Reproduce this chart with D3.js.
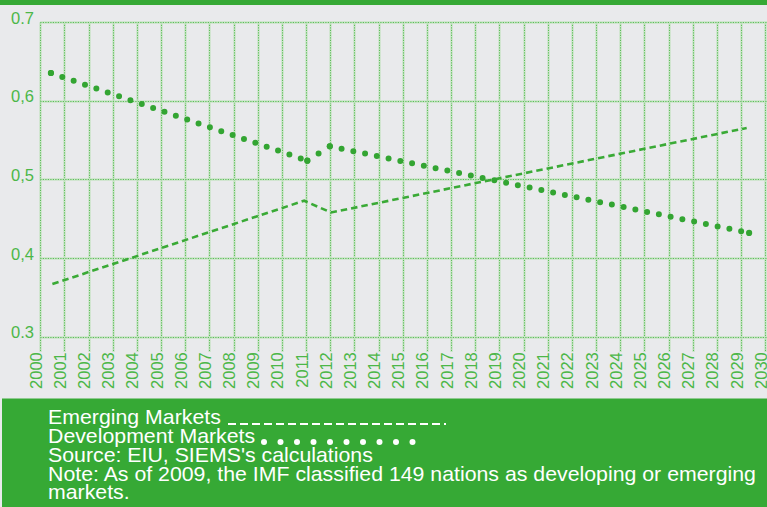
<!DOCTYPE html>
<html><head><meta charset="utf-8">
<script src="https://cdn.jsdelivr.net/npm/d3@7"></script>
<style>
html,body{margin:0;padding:0;background:#e9eaec;}
svg{display:block;font-family:"Liberation Sans",Arial,Helvetica,sans-serif;}
</style></head>
<body>
<svg id="chart" width="767" height="507"></svg>
<script>
// ---- data ----
const yearLabels = ["2000","2001","2002","2003","2004","2005","2006","2007","2008","2009","2010",
  "2011","2012","2013","2014","2015","2016","2017","2018","2019","2020",
  "2021","2022","2023","2024","2025","2026","2027","2028","2029","2030"];
const yTickValues = [0.3, 0.4, 0.5, 0.6, 0.7];
const yTickLabels = ["0.3", "0,4", "0,5", "0,6", "0.7"];

const emergingYears  = [2000.50, 2010.92, 2012.03, 2029.23];
const emergingValues = [0.367, 0.473, 0.458, 0.5655];

const developedYears  = [2000.44, 2011.05, 2011.98, 2029.33];
const developedValues = [0.6355, 0.524, 0.5422, 0.432];

const legendLines = [
  "Emerging Markets",
  "Development Markets",
  "Source: EIU, SIEMS's calculations",
  "Note: As of 2009, the IMF classified 149 nations as developing or emerging",
  "markets."
];

// ---- drawing ----
const W = 767, H = 507;
const svg = d3.select("#chart");
const green = "#36a935";
const textGreen = "#4cb748";

svg.append("rect").attr("width", W).attr("height", H).attr("fill", "#e9eaec");
svg.append("rect").attr("x", 0).attr("y", 0).attr("width", W).attr("height", 5).attr("fill", green);
svg.append("rect").attr("x", 2).attr("y", 398.5).attr("width", W - 2).attr("height", H - 398.5).attr("fill", green);

const x = d3.scaleLinear().domain([2000, 2030]).range([40.3, 765.3]);
const y = d3.scaleLinear().domain([0.3, 0.7]).range([336.7, 22.3]);

const grid = svg.append("g");
const years = yearLabels.map(Number);
years.forEach(yr => {
  const gx = Math.round(x(yr)) + 0.5;
  grid.append("line").attr("x1", gx).attr("x2", gx).attr("y1", y(0.7)).attr("y2", 352)
    .attr("stroke", "#c9e3c7").attr("stroke-width", 2.5);
  grid.append("line").attr("x1", gx).attr("x2", gx).attr("y1", y(0.7)).attr("y2", 352)
    .attr("stroke", "#5cbf59").attr("stroke-width", 1).attr("stroke-dasharray", "1.2,1.3");
});
yTickValues.forEach(v => {
  const gy = Math.round(y(v)) + 0.5;
  grid.append("line").attr("x1", x(2000)).attr("x2", W).attr("y1", gy).attr("y2", gy)
    .attr("stroke", "#c9e3c7").attr("stroke-width", 2.5);
  grid.append("line").attr("x1", x(2000)).attr("x2", W).attr("y1", gy).attr("y2", gy)
    .attr("stroke", "#5cbf59").attr("stroke-width", 1).attr("stroke-dasharray", "1.2,1.3");
});

// Y axis labels
const yAxis = d3.axisLeft(y).tickValues(yTickValues)
  .tickFormat((d, i) => yTickLabels[i]).tickSize(0).tickPadding(0);
const gY = svg.append("g").attr("transform", "translate(34,0)").call(yAxis);
gY.select(".domain").remove();
gY.selectAll("text").attr("fill", textGreen).attr("font-size", 16.5)
  .attr("font-family", "Liberation Sans, Arial, sans-serif")
  .attr("dy", 0).attr("y", 1).attr("text-anchor", "end");

// X axis labels
const xAxis = d3.axisBottom(x).tickValues(years).tickFormat((d, i) => yearLabels[i]).tickSize(0);
const gX = svg.append("g").attr("transform", `translate(0.5,${y(0.3)})`).call(xAxis);
gX.select(".domain").remove();
gX.selectAll("text").attr("fill", textGreen).attr("font-size", 16.5)
  .attr("font-family", "Liberation Sans, Arial, sans-serif")
  .attr("transform", "rotate(-90)").attr("text-anchor", "end")
  .attr("x", -15.5).attr("y", 0.5).attr("dy", 0);

// Emerging markets (dashed)
const emerging = emergingYears.map((yr, i) => [yr, emergingValues[i]]);
const line = d3.line().x(d => x(d[0])).y(d => y(d[1]));
svg.append("path").attr("d", line(emerging)).attr("fill", "none")
  .attr("stroke", "#3aaa36").attr("stroke-width", 2.6).attr("stroke-dasharray", "6.5,4");

// Development markets (dotted)
const developed = developedYears.map((yr, i) => [yr, developedValues[i]]);
for (let i = 0; i < developed.length - 1; i++) {
  const seg = [developed[i], developed[i + 1]];
  const dx = x(seg[1][0]) - x(seg[0][0]), dy = y(seg[1][1]) - y(seg[0][1]);
  const L = Math.hypot(dx, dy);
  const n = Math.max(1, Math.round(L / 12));
  const step = i === 1 ? L / n : 12;
  svg.append("path").attr("d", line(seg)).attr("fill", "none")
    .attr("stroke", "#33a532").attr("stroke-width", 6).attr("stroke-linecap", "round")
    .attr("stroke-dasharray", `0,${step}`);
}
svg.selectAll("circle.vtx").data(developed).enter().append("circle").attr("class", "vtx")
  .attr("cx", d => x(d[0])).attr("cy", d => y(d[1])).attr("r", 3.1).attr("fill", "#33a532");

// Legend
const leg = svg.append("g").attr("transform", "translate(48,0) scale(1.065,1)");
const baselines = [424.5, 443.2, 462, 480.7, 499.4];
legendLines.forEach((t, i) => {
  leg.append("text").attr("x", 0).attr("y", baselines[i]).attr("fill", "#fff")
    .attr("font-size", 20).text(t);
});
svg.append("line").attr("x1", 228).attr("x2", 446).attr("y1", 424).attr("y2", 424)
  .attr("stroke", "#fff").attr("stroke-width", 2).attr("stroke-dasharray", "8,4");
svg.selectAll("circle.ld").data(d3.range(10)).enter().append("circle").attr("class", "ld")
  .attr("cx", d => 264 + d * 16.5).attr("cy", 442).attr("r", 3).attr("fill", "#fff");
</script>
</body></html>
